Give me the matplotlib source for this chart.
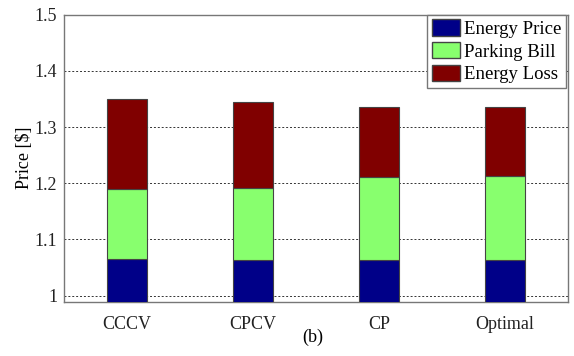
import numpy as np
import matplotlib.pyplot as plt
from matplotlib.patches import Patch

plt.rcParams['font.family'] = ['Liberation Serif', 'DejaVu Serif']

methods = ['CCCV', 'CPCV', 'CP', 'Optimal']
energy_price = [1.065, 1.0635, 1.0635, 1.0635]
parking_bill = [0.1255, 0.1275, 0.1475, 0.1495]
energy_loss = [0.159, 0.154, 0.125, 0.123]

c_price = '#000088'
c_park = '#88ff6e'
c_loss = '#800000'

fig = plt.figure(figsize=(5.74, 3.56), dpi=100, facecolor='white')
ax = fig.add_axes([0.1115, 0.1525, 0.878, 0.806])

x = np.arange(1, len(methods) + 1)
w = 0.31
bot2 = np.array(energy_price) + np.array(parking_bill)
ax.bar(x, energy_price, w, color=c_price, edgecolor='#444444', linewidth=0.8, zorder=3)
ax.bar(x, parking_bill, w, bottom=energy_price, color=c_park, edgecolor='#444444', linewidth=0.8, zorder=3)
ax.bar(x, energy_loss, w, bottom=bot2, color=c_loss, edgecolor='#444444', linewidth=0.8, zorder=3)

ax.set_xlim(0.5, 4.5)
ax.set_ylim(0.989, 1.5)
ax.set_yticks([1, 1.1, 1.2, 1.3, 1.4, 1.5])
ax.set_yticklabels(['1', '1.1', '1.2', '1.3', '1.4', '1.5'])
ax.set_xticks(x)
ax.set_xticklabels(methods)
ax.tick_params(axis='both', labelsize=13, length=0, colors='#222222')
ax.tick_params(axis='x', pad=10)
ax.tick_params(axis='y', pad=5)
ax.yaxis.grid(True, linestyle=(0, (2, 2)), color='#333333', linewidth=0.7, zorder=0)
for s in ax.spines.values():
    s.set_color('#777777')
    s.set_linewidth(1.0)
ax.set_ylabel('Price [$]', fontsize=13, labelpad=1)

handles = [Patch(facecolor=c_price, edgecolor='#444444', label='Energy Price'),
           Patch(facecolor=c_park, edgecolor='#444444', label='Parking Bill'),
           Patch(facecolor=c_loss, edgecolor='#444444', label='Energy Loss')]
leg = ax.legend(handles=handles, loc='upper right', bbox_to_anchor=(0.997, 1.0), fontsize=13.5,
                fancybox=False, framealpha=1, edgecolor='#777777', borderaxespad=0.0,
                handlelength=1.5, handleheight=0.95, handletextpad=0.25, labelspacing=0.22,
                borderpad=0.25)
leg.set_zorder(5)

fig.text(0.545, 0.053, '(b)', fontsize=13, ha='center', va='center')

fig.savefig('out.png', dpi=100, facecolor='white')
